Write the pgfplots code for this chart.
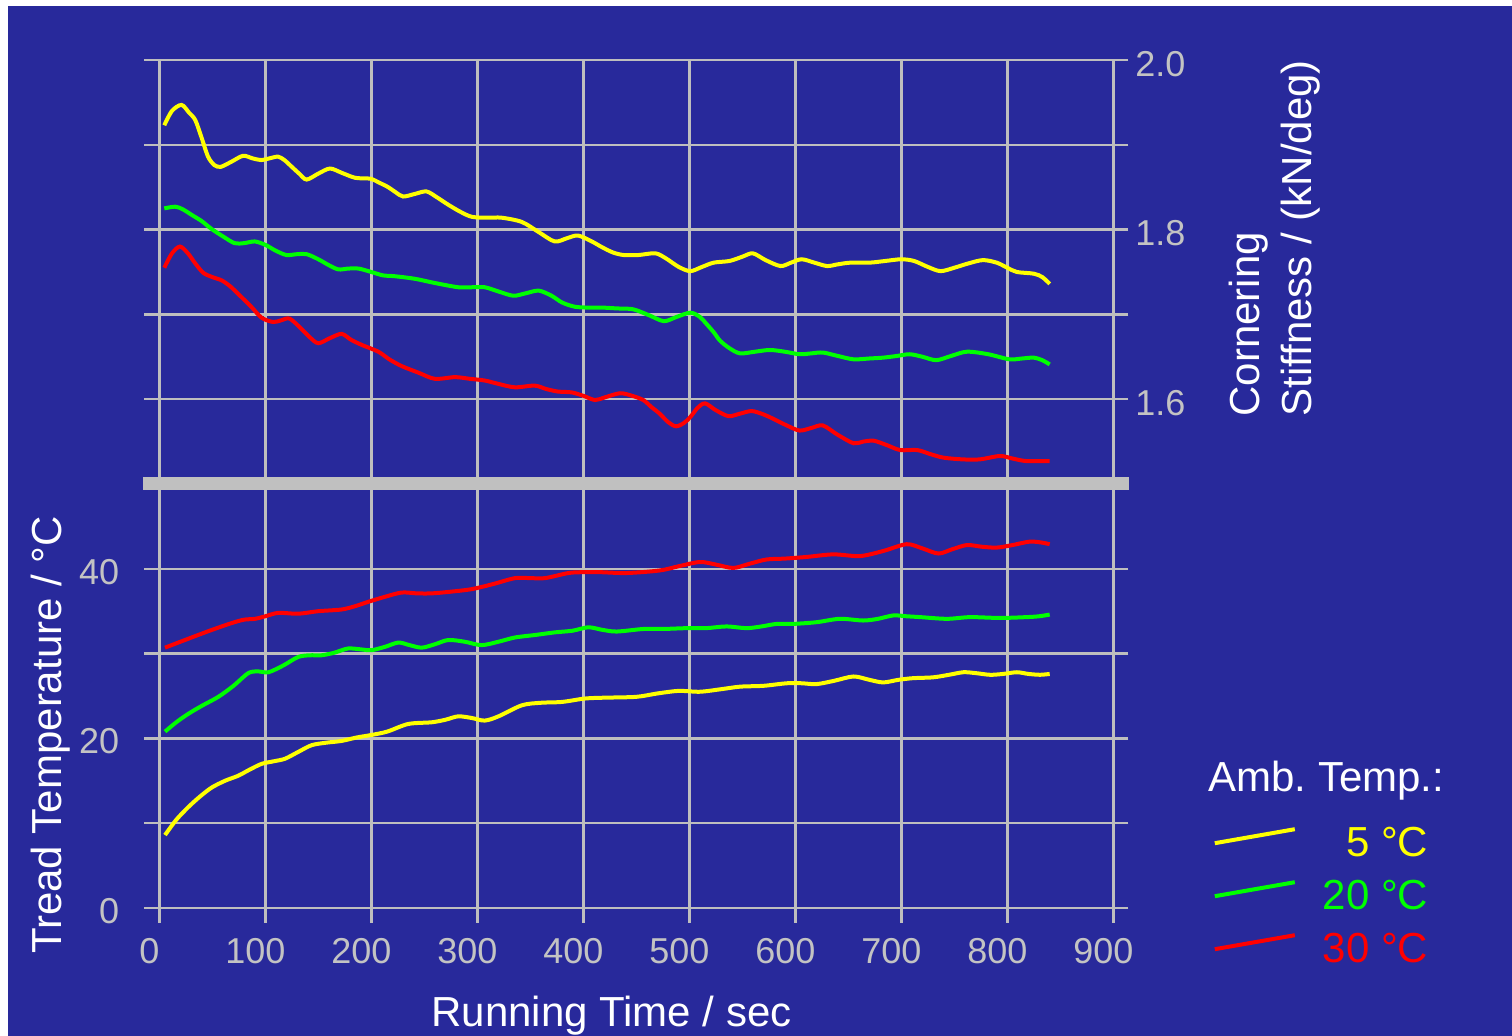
\documentclass[border=0pt]{standalone}
\usepackage{fontspec}
\setmainfont{Liberation Sans}
\usepackage{pgfplots}
\pgfplotsset{compat=1.18}
\definecolor{bg}{RGB}{40,41,155}
\definecolor{gridc}{RGB}{190,190,190}
\definecolor{barc}{RGB}{192,192,192}
\definecolor{tickc}{RGB}{195,195,195}
\definecolor{cyel}{RGB}{255,255,0}
\definecolor{cgrn}{RGB}{0,255,0}
\definecolor{cred}{RGB}{255,0,0}
\pgfplotsset{
 panel/.style={
  scale only axis, width=477pt, height=212pt,
  xmin=0, xmax=900, xtick={0,100,...,900},
  axis line style={draw=gridc, line width=1.25pt},
  grid=major,
  major grid style={draw=gridc, line width=1.25pt},
  tick style={draw=gridc, line width=1.25pt},
  major tick length=7.5pt,
  tick align=outside,
  ticklabel style={text=tickc, font=\fontsize{18}{18}\selectfont},
  /pgf/number format/assume math mode=true,
  clip=false,
 },
 curve/.style={line width=2pt, smooth, tension=0.5, #1},
}
\begin{document}
\begin{tikzpicture}
\fill[white] (-79.65pt,-64pt) rectangle (676.35pt,454pt);
\fill[bg] (-75.65pt,-64pt) rectangle (676.35pt,451pt);
% ---------------- upper panel ----------------
\begin{axis}[panel, at={(0,212pt)}, anchor=south west,
  ymin=1.5, ymax=2.0, ytick={1.5,1.6,1.7,1.8,1.9,2.0},
  yticklabels={,1.6,,1.8,,2.0},
  ytick pos=both, yticklabel pos=right,
  xtick pos=left, xticklabels={},
  yticklabel style={anchor=west, yshift=-2pt}]
\addplot[curve=cyel] coordinates {(4.7,1.923) (12,1.940) (21,1.947) (28,1.938) (34,1.929) (40,1.908) (46,1.886) (52,1.876) (58,1.874) (68,1.880) (79,1.887) (88,1.884) (96,1.882) (104,1.884) (112,1.886) (118,1.882) (125,1.874) (132,1.866) (139,1.859) (150,1.866) (161,1.872) (172,1.867) (185,1.861) (199,1.860) (208,1.855) (216,1.850) (223,1.844) (230,1.839) (241,1.842) (252,1.845) (262,1.838) (273,1.829) (284,1.821) (295,1.815) (310,1.814) (323,1.814) (342,1.809) (358,1.797) (373,1.786) (385,1.790) (395,1.793) (408,1.786) (418,1.779) (428,1.773) (438,1.770) (452,1.770) (468,1.772) (478,1.766) (490,1.756) (501,1.751) (512,1.756) (523,1.761) (538,1.763) (550,1.768) (560,1.772) (572,1.764) (586,1.757) (596,1.761) (606,1.765) (618,1.761) (630,1.757) (640,1.759) (652,1.761) (670,1.761) (685,1.763) (700,1.765) (712,1.763) (725,1.756) (737,1.751) (750,1.755) (763,1.760) (777,1.764) (790,1.761) (800,1.755) (809,1.750) (825,1.748) (833,1.744) (840,1.736)};
\addplot[curve=cgrn] coordinates {(4.7,1.825) (15,1.827) (22,1.824) (31,1.817) (40,1.810) (49,1.801) (60,1.792) (71,1.784) (80,1.784) (90,1.786) (100,1.782) (110,1.775) (120,1.770) (130,1.771) (139,1.771) (150,1.765) (160,1.758) (169,1.753) (178,1.754) (188,1.754) (200,1.750) (211,1.746) (222,1.745) (241,1.742) (260,1.737) (282,1.732) (295,1.732) (307,1.732) (320,1.727) (334,1.722) (346,1.725) (358,1.728) (370,1.722) (380,1.714) (392,1.709) (405,1.708) (418,1.708) (432,1.707) (447,1.706) (462,1.699) (476,1.692) (488,1.697) (501,1.702) (510,1.697) (516,1.689) (523,1.679) (529,1.669) (538,1.660) (548,1.654) (562,1.656) (576,1.658) (590,1.656) (604,1.653) (615,1.654) (626,1.655) (640,1.651) (655,1.647) (670,1.648) (683,1.649) (696,1.651) (708,1.653) (720,1.650) (733,1.646) (747,1.651) (762,1.656) (782,1.653) (802,1.647) (814,1.648) (825,1.649) (833,1.646) (840,1.641)};
\addplot[curve=cred] coordinates {(4.7,1.755) (12,1.772) (19.5,1.780) (27,1.772) (34,1.760) (41.5,1.749) (50,1.744) (59,1.740) (67,1.733) (74.5,1.724) (86,1.710) (96.6,1.696) (107.5,1.691) (115,1.693) (123,1.695) (134,1.683) (142,1.673) (150,1.666) (161,1.672) (172,1.677) (181,1.670) (191,1.664) (206.6,1.656) (217,1.647) (228.7,1.639) (245,1.631) (260,1.624) (279,1.626) (293,1.624) (307,1.622) (320,1.618) (335.6,1.614) (354,1.616) (365,1.612) (376,1.609) (389,1.608) (400,1.604) (411,1.599) (420,1.602) (434.6,1.607) (446,1.604) (456.6,1.599) (464,1.591) (472,1.583) (480,1.573) (487.5,1.568) (495,1.572) (501,1.579) (508,1.590) (515,1.595) (525,1.587) (537,1.580) (548,1.583) (559,1.586) (570,1.582) (579,1.577) (592,1.569) (604,1.563) (615,1.566) (626,1.569) (640,1.558) (655,1.548) (664,1.550) (674,1.551) (686,1.546) (699,1.540) (715,1.540) (728,1.535) (740,1.531) (758,1.529) (774,1.529) (793,1.533) (805,1.530) (818,1.527) (840,1.527)};
\node[rotate=90, anchor=base west, inner sep=0pt, text=white, font=\fontsize{21}{21}\selectfont] at (axis description cs:1.1537,0.158) {Cornering};
\node[rotate=90, anchor=base west, inner sep=0pt, text=white, font=\fontsize{21}{21}\selectfont] at (axis description cs:1.2082,0.158) {Stiffness / (kN/deg)};
\end{axis}
% ---------------- lower panel ----------------
\begin{axis}[panel, at={(0,0)}, anchor=south west,
  ymin=0, ymax=50, ytick={0,10,20,30,40,50},
  yticklabels={0,,20,,40,},
  ytick pos=both, yticklabel pos=left, xtick pos=left,
  yticklabel style={anchor=east, xshift=-9pt, yshift=-1.5pt},
  xticklabel style={xshift=-5pt, yshift=-4pt},
  xlabel={Running Time / sec},
  xlabel style={at={([yshift=-59.5pt]axis description cs:0.474,0)}, anchor=base, text=white, font=\fontsize{21}{21}\selectfont},
  ylabel={Tread Temperature / °C},
  ylabel style={at={([xshift=-48.8pt]axis description cs:0,0.408)}, anchor=base, text=white, font=\fontsize{21}{21}\selectfont},
  legend style={draw=none, fill=none, inner sep=0pt, outer sep=0pt,
    at={(1.3302,0.1917)}, anchor=north east, row sep=0pt, column sep=13pt,
    font=\fontsize{21}{21}\selectfont,
    nodes={inner sep=0pt, text height=15pt, text depth=11.5pt}},
  legend cell align=right,
  legend image code/.code={\draw[#1, line width=2pt, smooth=false] (0pt,5pt) -- (40pt,12pt);}]
\addplot[curve=cyel] coordinates {(5.4,8.6) (16,10.4) (27.4,11.9) (38,13.1) (49.4,14.2) (62,15.0) (74.5,15.6) (85,16.3) (96.6,17.0) (108,17.3) (118.6,17.6) (131,18.4) (143.8,19.2) (158,19.5) (172,19.7) (186,20.1) (200,20.4) (215,20.8) (234.9,21.7) (257,21.9) (270,22.2) (282,22.6) (295,22.4) (307,22.1) (320,22.6) (342,23.9) (360,24.2) (380,24.3) (401.6,24.7) (420,24.8) (450,24.9) (470,25.3) (490,25.6) (510,25.5) (530,25.8) (548,26.1) (570,26.2) (592,26.5) (606,26.5) (620,26.4) (637,26.8) (655,27.3) (670,26.9) (683,26.6) (697,26.9) (711,27.1) (730,27.2) (745,27.5) (758.5,27.8) (770,27.7) (783.7,27.5) (796,27.6) (809,27.8) (820,27.6) (831,27.5) (840,27.6)};
\addlegendentry{\textcolor{cyel}{5 °C}}
\addplot[curve=cgrn] coordinates {(5.4,20.8) (16,21.9) (27.4,22.9) (41,23.9) (55.7,24.9) (70,26.2) (84,27.7) (93,27.9) (103,27.8) (117,28.6) (131,29.6) (142,29.8) (153,29.8) (165,30.1) (178,30.6) (190,30.5) (200,30.4) (213,30.8) (225.5,31.3) (236,31.0) (247.5,30.7) (260,31.1) (272.6,31.6) (288,31.4) (304,31.0) (320,31.4) (335.6,31.9) (355,32.2) (373,32.5) (390,32.7) (404.7,33.1) (418,32.8) (431.5,32.6) (456.6,32.9) (475,32.9) (497.5,33.0) (516,33.0) (535,33.2) (554,33.0) (568,33.2) (582.5,33.5) (598,33.5) (620,33.7) (642,34.1) (664,33.9) (678,34.1) (692.5,34.5) (705,34.4) (718,34.3) (743,34.1) (765,34.3) (793,34.2) (818,34.3) (830,34.4) (840,34.6)};
\addlegendentry{\textcolor{cgrn}{20 °C}}
\addplot[curve=cred] coordinates {(5.4,30.7) (20,31.4) (36.8,32.2) (52,32.9) (68.3,33.6) (80,34.0) (90.3,34.1) (100,34.4) (112.3,34.8) (131,34.7) (150,35.0) (172,35.2) (185,35.6) (197,36.1) (213,36.7) (228.7,37.2) (243,37.1) (257,37.1) (275,37.3) (294.7,37.6) (315,38.2) (335.6,38.9) (350,38.9) (364,38.9) (386,39.5) (400,39.6) (416,39.6) (441,39.5) (472,39.8) (490,40.3) (510,40.8) (525,40.5) (541.5,40.1) (557,40.6) (573,41.1) (590,41.2) (611,41.4) (636,41.7) (661,41.5) (683,42.1) (705,42.9) (720,42.4) (735,41.8) (748,42.3) (762,42.8) (776,42.6) (790,42.5) (805,42.8) (821,43.2) (832,43.1) (840,42.9)};
\addlegendentry{\textcolor{cred}{30 °C}}
\node[anchor=base west, inner sep=0pt, text=white, font=\fontsize{21}{21}\selectfont] at (axis description cs:1.0993,0.2743) {Amb.\ Temp.:};
\end{axis}
\fill[barc] (-8pt,208.85pt) rectangle (485pt,215.35pt);
\pgfresetboundingbox
\path[use as bounding box] (-79.65pt,-64pt) rectangle (676.35pt,454pt);
\end{tikzpicture}
\end{document}
